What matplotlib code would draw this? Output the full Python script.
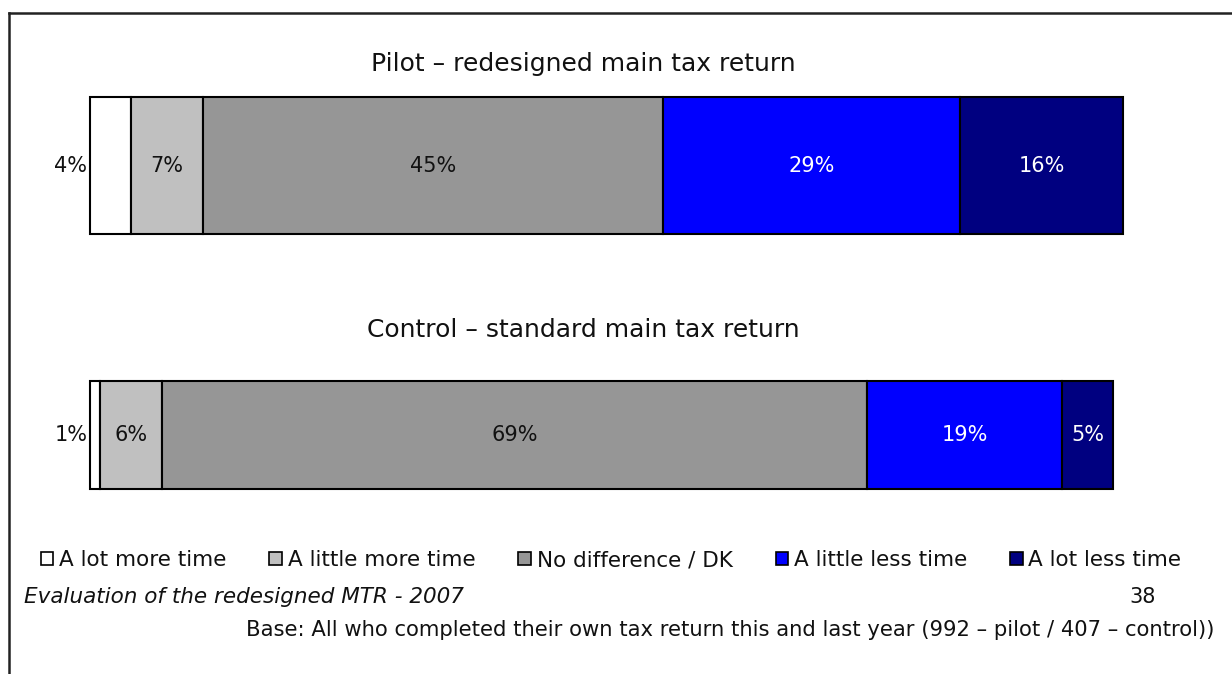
import matplotlib
matplotlib.use("Agg")
import matplotlib.pyplot as plt
from matplotlib.patches import Patch

categories = ["A lot more time", "A little more time", "No difference / DK",
              "A little less time", "A lot less time"]
colors = ["#FFFFFF", "#C0C0C0", "#969696", "#0000FF", "#000080"]
label_colors = ["black", "black", "black", "white", "white"]
pilot = [4, 7, 45, 29, 16]
control = [1, 6, 69, 19, 5]
titles = ["Pilot \u2013 redesigned main tax return", "Control \u2013 standard main tax return"]

W, H = 1232, 674
fig = plt.figure(figsize=(W / 100, H / 100), dpi=100)
ax = fig.add_axes([0, 0, 1, 1])
px = 10.23  # pixels per percent
x0 = 90
ax.set_xlim(-x0 / px, (W - x0) / px)
ax.set_ylim(H, 0)
ax.axis("off")

FS = 15
TXT = "#111111"
rows = [(pilot, 165.5, 137, 64), (control, 435, 108, 330)]
for (vals, yc, hgt, ty), title in zip(rows, titles):
    left = 0
    for i, v in enumerate(vals):
        ax.barh(yc, v, left=left, height=hgt, color=colors[i], edgecolor="black", linewidth=1.5)
        if i == 0:
            ax.text(left - 0.25, yc, f"{v}%", ha="right", va="center", fontsize=FS, color=TXT)
        else:
            ax.text(left + v / 2, yc, f"{v}%", ha="center", va="center", fontsize=FS,
                    color=TXT if label_colors[i] == "black" else "white")
        left += v
    ax.text(48.2, ty, title, ha="center", va="center", fontsize=18, color=TXT)

handles = [Patch(facecolor=c, edgecolor="black", linewidth=1.2) for c in colors]
leg = fig.legend(handles, categories, loc="center", bbox_to_anchor=(611 / W, 1 - 560 / H), ncol=5,
                 frameon=False, fontsize=15.5, handlelength=0.6, handleheight=0.6, handletextpad=0.25,
                 columnspacing=2.0)
for t in leg.get_texts():
    t.set_color(TXT)

fig.text(24 / W, 1 - 597 / H, "Evaluation of the redesigned MTR - 2007", fontsize=15.5, style="italic",
         ha="left", va="center", color=TXT)
fig.text(1143 / W, 1 - 597 / H, "38", fontsize=FS, ha="center", va="center", color=TXT)
fig.text(1214 / W, 1 - 630 / H,
         "Base: All who completed their own tax return this and last year (992 \u2013 pilot / 407 \u2013 control))",
         fontsize=15.2, ha="right", va="center", color=TXT)

# frame
fig.add_artist(plt.Line2D([9 / W, 1.0], [1 - 13 / H, 1 - 13 / H], color="#222222", lw=1.8))
fig.add_artist(plt.Line2D([9 / W, 9 / W], [1 - 13 / H, 0], color="#222222", lw=1.8))

fig.savefig("out.png", dpi=100)
